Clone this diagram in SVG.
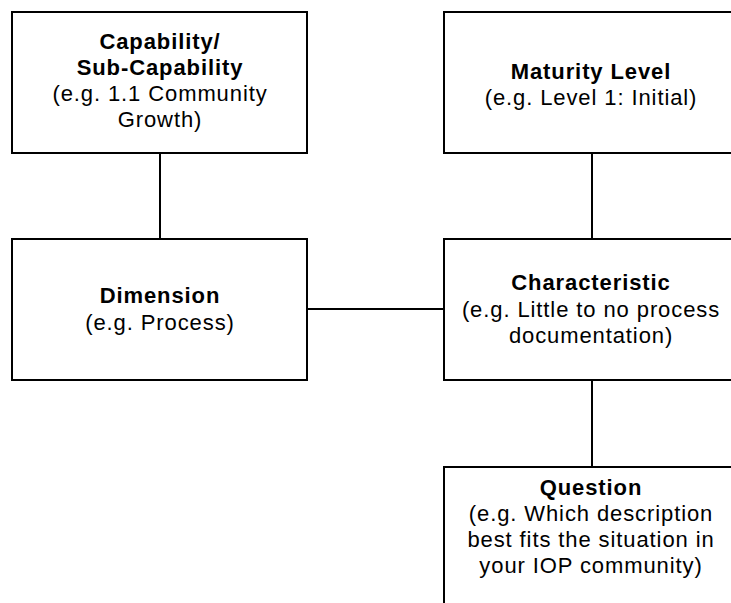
<svg xmlns="http://www.w3.org/2000/svg" width="731" height="603" viewBox="0 0 731 603">
  <style>
    .box { fill: #ffffff; stroke: #000000; stroke-width: 2; }
    .link { stroke: #000000; stroke-width: 2; fill: none; }
    text { font-family: "Liberation Sans", Arial, sans-serif; font-size: 22px; letter-spacing: 0.9px; fill: #000000; text-anchor: middle; }
    .title { font-weight: bold; }
  </style>
  <rect width="731" height="603" fill="#ffffff"/>

  <g id="connectors">
    <line class="link" x1="160" y1="153" x2="160" y2="239"/>
    <line class="link" x1="592" y1="153" x2="592" y2="239"/>
    <line class="link" x1="307" y1="309" x2="444" y2="309"/>
    <line class="link" x1="592" y1="380" x2="592" y2="467"/>
  </g>

  <g id="capability">
    <rect class="box" x="12" y="12" width="295" height="141"/>
    <text x="160" y="49" class="title">Capability/</text>
    <text x="160" y="75" class="title">Sub-Capability</text>
    <text x="160" y="101">(e.g. 1.1 Community</text>
    <text x="160" y="127">Growth)</text>
  </g>

  <g id="maturity-level">
    <rect class="box" x="444" y="12" width="295" height="141"/>
    <text x="591" y="79" class="title">Maturity Level</text>
    <text x="591" y="105">(e.g. Level 1: Initial)</text>
  </g>

  <g id="dimension">
    <rect class="box" x="12" y="239" width="295" height="141"/>
    <text x="160" y="303" class="title">Dimension</text>
    <text x="160" y="330">(e.g. Process)</text>
  </g>

  <g id="characteristic">
    <rect class="box" x="444" y="239" width="295" height="141"/>
    <text x="591" y="290" class="title">Characteristic</text>
    <text x="591" y="317">(e.g. Little to no process</text>
    <text x="591" y="343">documentation)</text>
  </g>

  <g id="question">
    <rect class="box" x="444" y="467" width="295" height="160"/>
    <text x="591" y="495" class="title">Question</text>
    <text x="591" y="521">(e.g. Which description</text>
    <text x="591" y="547">best fits the situation in</text>
    <text x="591" y="573">your IOP community)</text>
  </g>
</svg>
